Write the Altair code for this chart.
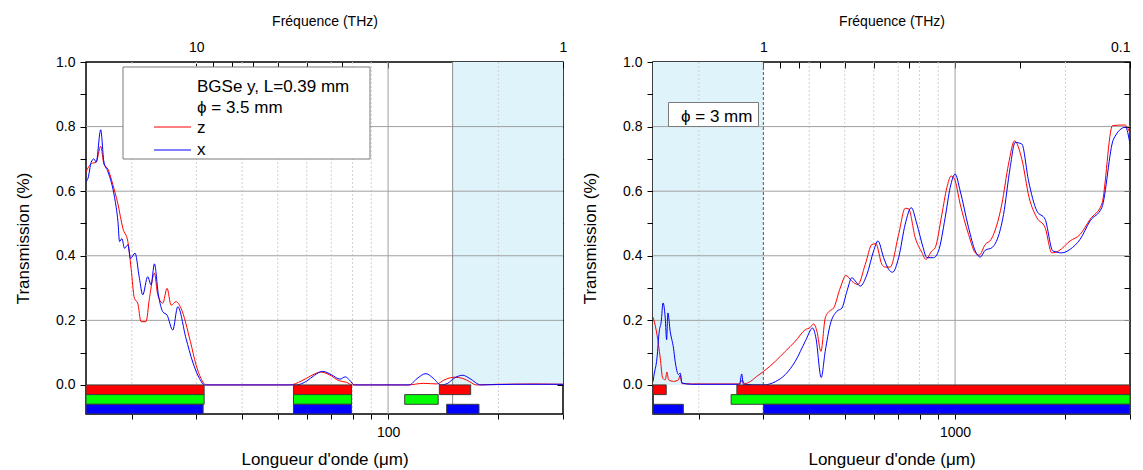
import altair as alt
import pandas as pd

FONT = "Liberation Sans"
PLOT_W, PLOT_H = 477, 352
Y_DOMAIN = [-0.09, 1.0]
THZ_UM = 300.0  # wavelength (um) = 300 / frequency (THz)
SHADE_COLOR = "#dff3fb"

# ---------------- left panel : BGSe y, L=0.39 mm, phi = 3.5 mm ----------------
left_z_wl = [15.0, 15.19, 15.5, 15.99, 16.45, 16.79, 17.22, 17.76, 18.33, 18.91, 19.51, 19.91,
             20.33, 20.76, 21.19, 21.87, 22.34, 23.05, 23.54, 24.29, 24.96, 25.6, 26.41, 27.25,
             28.9, 29.94, 30.89, 31.88, 40.0, 53.92, 58.0, 62.0, 65.61, 69.0, 73.63, 77.0, 80.02,
             100.0, 113.0, 125.0, 136.0, 142.0, 151.8, 160.0, 167.0, 173.9, 200.0, 250.0, 300.0]
left_z_T = [0.66, 0.672, 0.685, 0.69, 0.739, 0.683, 0.668, 0.62, 0.56, 0.485, 0.444, 0.361,
            0.268, 0.253, 0.196, 0.196, 0.268, 0.346, 0.279, 0.253, 0.299, 0.247, 0.258, 0.237,
            0.134, 0.062, 0.02, 0.0, 0.0, 0.0, 0.012, 0.03, 0.04, 0.032, 0.013, 0.008, 0.0,
            0.0, 0.0, 0.005, 0.003, 0.015, 0.024, 0.02, 0.01, 0.0, 0.002, 0.003, 0.002]
left_x_wl = [15.0, 15.19, 15.5, 15.76, 15.99, 16.45, 16.79, 17.22, 17.95, 18.33, 18.52, 18.79,
             19.11, 19.51, 19.84, 20.41, 20.98, 21.42, 22.1, 22.57, 23.05, 23.64, 24.29, 24.96,
             25.87, 26.69, 28.11, 29.32, 30.59, 31.56, 40.0, 56.2, 60.0, 63.0, 66.31, 70.0, 73.9,
             76.43, 78.5, 80.88, 100.0, 114.2, 120.0, 126.8, 133.0, 139.4, 145.4, 151.0, 159.9,
             167.0, 179.1, 220.0, 300.0]
left_x_T = [0.63, 0.64, 0.69, 0.70, 0.69, 0.79, 0.69, 0.66, 0.58, 0.506, 0.444, 0.453,
            0.423, 0.434, 0.392, 0.408, 0.33, 0.279, 0.335, 0.31, 0.375, 0.279, 0.227, 0.216,
            0.17, 0.242, 0.144, 0.071, 0.02, 0.0, 0.0, 0.0, 0.012, 0.03, 0.042, 0.032, 0.018,
            0.025, 0.015, 0.0, 0.0, 0.0, 0.02, 0.035, 0.02, 0.0, 0.005, 0.02, 0.03,
            0.02, 0.0, 0.002, 0.002]

left_bar_row = ["r", "r", "r", "g", "g", "g", "b", "b", "b"]
left_bar_start = [15.0, 55.2, 138.0, 15.0, 55.2, 111.0, 15.0, 55.2, 144.5]
left_bar_end = [31.5, 79.5, 168.0, 31.5, 79.5, 137.0, 31.3, 79.5, 177.0]

# ---------------- right panel : phi = 3 mm ----------------
right_z_wl = [150.0, 150.7, 153.8, 157.0, 159.4, 162.0, 163.7, 165.4, 170.6, 176.1, 177.9, 179.9,
              191.2, 230.0, 258.2, 262.4, 266.6, 272.9, 287.5, 300.6, 323.3, 344.2, 366.5, 390.3,
              402.7, 411.4, 420.0, 430.6, 442.4, 453.6, 466.3, 486.1, 503.8, 523.2, 543.3, 568.8,
              593.3, 608.4, 631.6, 644.9, 665.4, 701.5, 731.2, 747.0, 778.6, 811.9, 832.5, 864.4,
              882.5, 920.4, 949.7, 975.7, 996.8, 1032.5, 1088.5, 1135.0, 1163.8, 1208.4, 1254.8,
              1341.5, 1399.0, 1452.8, 1520.8, 1592.2, 1670.9, 1760.2, 1836.0, 1915.1, 2059.7,
              2193.3, 2335.2, 2513.1, 2688.0, 2903.4, 3000.0]
right_z_T = [0.21, 0.202, 0.156, 0.083, 0.021, 0.016, 0.04, 0.016, 0.011, 0.016, 0.031, 0.004,
             0.003, 0.003, 0.003, 0.015, 0.004, 0.007, 0.026, 0.042, 0.073, 0.104, 0.135, 0.171,
             0.178, 0.189, 0.166, 0.104, 0.207, 0.228, 0.238, 0.30, 0.339, 0.321, 0.311, 0.373,
             0.435, 0.437, 0.373, 0.365, 0.365, 0.466, 0.547, 0.545, 0.456, 0.41, 0.389, 0.415,
             0.425, 0.528, 0.611, 0.647, 0.637, 0.56, 0.466, 0.409, 0.402, 0.435, 0.451,
             0.56, 0.684, 0.756, 0.699, 0.58, 0.518, 0.487, 0.409, 0.415, 0.446,
             0.466, 0.513, 0.56, 0.803, 0.805, 0.78]
right_x_wl = [150.0, 150.7, 153.8, 156.0, 158.0, 159.7, 162.0, 163.4, 164.7, 167.1, 170.6, 172.4,
              176.1, 177.9, 179.9, 191.2, 258.2, 261.9, 264.5, 300.6, 323.3, 344.2, 366.5, 390.3,
              408.9, 417.4, 431.4, 442.4, 456.5, 476.1, 491.3, 507.0, 523.2, 534.1, 551.3, 574.9,
              599.6, 616.0, 638.5, 658.8, 675.6, 701.5, 731.2, 759.3, 786.9, 816.0, 837.7, 873.6,
              901.5, 939.7, 969.6, 1000.5, 1032.5, 1088.5, 1135.0, 1171.1, 1208.4, 1260.3, 1355.8,
              1413.2, 1458.2, 1520.8, 1586.3, 1670.9, 1760.2, 1847.5, 1955.2, 2059.7, 2193.3,
              2335.2, 2513.1, 2704.7, 2916.1, 3000.0]
right_x_T = [0.01, 0.026, 0.083, 0.166, 0.197, 0.254, 0.207, 0.14, 0.223, 0.166, 0.114, 0.073,
             0.032, 0.037, 0.006, 0.002, 0.002, 0.034, 0.002, 0.0, 0.01, 0.032, 0.073, 0.135,
             0.176, 0.145, 0.023, 0.104, 0.187, 0.228, 0.238, 0.29, 0.332, 0.322, 0.306, 0.342,
             0.415, 0.446, 0.394, 0.358, 0.349, 0.394, 0.498, 0.549, 0.498, 0.43, 0.394, 0.394,
             0.415, 0.518, 0.611, 0.653, 0.601, 0.487, 0.415, 0.396, 0.417, 0.425, 0.528,
             0.673, 0.751, 0.746, 0.632, 0.539, 0.513, 0.415, 0.409, 0.42, 0.451,
             0.508, 0.549, 0.761, 0.798, 0.746]

right_bar_row = ["r", "r", "g", "b", "b"]
right_bar_start = [150.0, 254.0, 245.0, 150.0, 300.0]
right_bar_end = [163.0, 3000.0, 3000.0, 181.5, 3000.0]

# ---------------- shared categories / ticks ----------------
series_names = ["z", "x"]
series_colors = ["#ff0000", "#0000ff"]
bar_rows = ["r", "g", "b"]
bar_colors = ["#ff0000", "#00ff00", "#0000ff"]
bar_row_top = [0.0, -0.03, -0.06]
bar_row_bottom = [-0.03, -0.06, -0.09]

shade_range = [150.0, 300.0]
shade_T = [0.0, 1.0]

y_tick_values = [0.0, 0.1, 0.2, 0.3, 0.4, 0.5, 0.6, 0.7, 0.8, 0.9, 1.0]
hgrid_values = [0.2, 0.4, 0.6, 0.8]

left_domain = [15.0, 300.0]
left_bottom_ticks = [20, 30, 40, 50, 60, 70, 80, 90, 100, 200, 300]
left_bottom_labels = [100]
left_minor_grid = [20, 30, 40, 50, 60, 70, 80, 90, 200]
left_major_grid = [100]
left_top_major = [10, 1]
left_top_minor = [9, 8, 7, 6, 5, 4, 3, 2]

right_domain = [150.0, 3000.0]
right_bottom_ticks = [200, 300, 400, 500, 600, 700, 800, 900, 1000, 2000, 3000]
right_bottom_labels = [1000]
right_minor_grid = [200, 400, 500, 600, 700, 800, 900, 2000]
right_major_grid = [1000]
right_top_major = [1, 0.1]
right_top_minor = [0.9, 0.8, 0.7, 0.6, 0.5, 0.4, 0.3, 0.2]

legend_title_lines = ["BGSe y, L=0.39 mm", "\u03d5 = 3.5 mm"]
right_note = "\u03d5 = 3 mm"


def one(text):
    return pd.DataFrame({"t": [text]})


def build_panel(z_wl, z_T, x_wl, x_T, b_row, b_start, b_end, xdom, bottom_ticks,
                bottom_labels, minor_grid, major_grid, edge_mark, top_major, top_minor,
                top_flush, notes):
    xs = alt.Scale(type="log", domain=xdom, nice=False)
    ys = alt.Scale(domain=Y_DOMAIN, nice=False, zero=False)

    curves = pd.concat([
        pd.DataFrame({"wl": z_wl, "T": z_T, "series": "z", "i": list(range(len(z_wl)))}),
        pd.DataFrame({"wl": x_wl, "T": x_T, "series": "x", "i": list(range(len(x_wl)))}),
    ], ignore_index=True)
    top_map = dict(zip(bar_rows, bar_row_top))
    bot_map = dict(zip(bar_rows, bar_row_bottom))
    bars = pd.DataFrame({"row": b_row, "a": b_start, "b": b_end})
    bars["top"] = bars["row"].map(top_map)
    bars["bot"] = bars["row"].map(bot_map)
    shade = pd.DataFrame({"x0": [shade_range[0]], "x1": [shade_range[1]],
                          "y0": [shade_T[0]], "y1": [shade_T[1]]})

    lab = ",".join(str(v) for v in bottom_labels)
    bottom_axis = alt.Axis(orient="bottom", values=bottom_ticks,
                           labelExpr=f"indexof([{lab}], datum.value) >= 0 ? format(datum.value, 'd') : ''",
                           tickSize=5, labelPadding=6, labelOverlap=False, labelFlush=False,
                           title="Longueur d'onde (\u03bcm)", titlePadding=12)
    left_axis = alt.Axis(orient="left", values=y_tick_values,
                         labelExpr="round(datum.value * 10) % 2 == 0 ? format(datum.value, '.1f') : ''",
                         tickSize=6, labelPadding=5, labelOverlap=False,
                         title="Transmission (%)", titlePadding=23)
    top_vals = sorted(THZ_UM / f for f in top_major + top_minor)
    maj = ",".join(repr(float(f)) for f in top_major)
    top_axis = alt.Axis(orient="top", values=top_vals,
                        labelExpr=(f"indexof([{maj}], round({THZ_UM} / datum.value * 1000) / 1000) >= 0"
                                   f" ? format({THZ_UM} / datum.value, '~g') : ''"),
                        tickSize=6, offset=-6, labelPadding=8, labelOverlap=False,
                        labelFlush=top_flush, title="Fr\u00e9quence (THz)", titleFontSize=14,
                        titlePadding=12)
    right_axis = alt.Axis(orient="right", values=y_tick_values, labels=False, tickSize=6,
                          offset=-6, title=None)

    layers = [
        alt.Chart(shade).mark_rect(color=SHADE_COLOR).encode(
            x=alt.X("x0:Q", scale=xs, axis=bottom_axis), x2="x1:Q",
            y=alt.Y("y0:Q", scale=ys, axis=left_axis), y2="y1:Q"),
        alt.Chart(pd.DataFrame({"v": minor_grid})).mark_rule(
            color="#d2d2d2", strokeDash=[2, 2], strokeWidth=1).encode(
            x=alt.X("v:Q", scale=xs, axis=None)),
        alt.Chart(pd.DataFrame({"v": major_grid})).mark_rule(color="#a0a0a0", strokeWidth=1).encode(
            x=alt.X("v:Q", scale=xs, axis=None)),
        alt.Chart(pd.DataFrame({"v": hgrid_values})).mark_rule(color="#a0a0a0", strokeWidth=1).encode(
            y=alt.Y("v:Q", scale=ys, axis=None)),
        alt.Chart(pd.DataFrame({"v": [shade_range[1] if edge_mark == "dash" else shade_range[0]]}))
        .mark_rule(**({"color": "#555555", "strokeDash": [3, 2]} if edge_mark == "dash"
                      else {"color": "#8c8c8c"}), strokeWidth=1)
        .encode(x=alt.X("v:Q", scale=xs, axis=None)),
        alt.Chart(curves).mark_line(strokeWidth=1, interpolate="monotone", clip=True).encode(
            x=alt.X("wl:Q", scale=xs, axis=None),
            y=alt.Y("T:Q", scale=ys, axis=None),
            color=alt.Color("series:N", scale=alt.Scale(domain=series_names, range=series_colors),
                            legend=None),
            order="i:Q"),
        alt.Chart(bars).mark_rect(stroke="#3c3c3c", strokeWidth=1).encode(
            x=alt.X("a:Q", scale=xs, axis=None), x2="b:Q",
            y=alt.Y("top:Q", scale=ys, axis=None), y2="bot:Q",
            fill=alt.Fill("row:N", scale=alt.Scale(domain=bar_rows, range=bar_colors), legend=None)),
    ]
    layers += notes
    layers += [
        alt.Chart(pd.DataFrame({"v": top_vals})).mark_rule(strokeOpacity=0).encode(
            x=alt.X("v:Q", scale=xs, axis=top_axis)),
        alt.Chart(pd.DataFrame({"v": y_tick_values})).mark_rule(strokeOpacity=0).encode(
            y=alt.Y("v:Q", scale=ys, axis=right_axis)),
    ]
    return alt.layer(*layers).properties(width=PLOT_W, height=PLOT_H).resolve_axis(
        x="independent", y="independent")


def txt(text, x, y, size=17):
    return alt.Chart(one(text)).mark_text(align="left", baseline="alphabetic", font=FONT,
                                          fontSize=size, color="black").encode(
        x=alt.value(x), y=alt.value(y), text="t:N")


def box(x0, x1, y0, y1):
    return alt.Chart(one("box")).mark_rect(fill="white", stroke="#7a7a7a", strokeWidth=1).encode(
        x=alt.value(x0), x2=alt.value(x1), y=alt.value(y0), y2=alt.value(y1))


def sample(color, x0, x1, y):
    return alt.Chart(one("line")).mark_rule(color=color, strokeWidth=1).encode(
        x=alt.value(x0), x2=alt.value(x1), y=alt.value(y))


left_notes = [
    box(37, 284, 5, 97),
    txt(legend_title_lines[0], 111, 29.5),
    txt(legend_title_lines[1], 111, 51),
    sample(series_colors[0], 68, 105, 65),
    txt(series_names[0], 111, 71),
    sample(series_colors[1], 68, 105, 88),
    txt(series_names[1], 111, 93),
]
right_notes = [
    box(15.5, 105.5, 40.5, 64.5),
    txt(right_note, 28, 60),
]

left = build_panel(left_z_wl, left_z_T, left_x_wl, left_x_T, left_bar_row, left_bar_start,
                   left_bar_end, left_domain, left_bottom_ticks, left_bottom_labels,
                   left_minor_grid, left_major_grid, "solid", left_top_major, left_top_minor,
                   False, left_notes)
right = build_panel(right_z_wl, right_z_T, right_x_wl, right_x_T, right_bar_row, right_bar_start,
                    right_bar_end, right_domain, right_bottom_ticks, right_bottom_labels,
                    right_minor_grid, right_major_grid, "dash", right_top_major, right_top_minor,
                    True, right_notes)

chart = alt.hconcat(left, right, spacing=90, bounds="flush").properties(
    padding={"left": 5, "top": 5, "right": 0, "bottom": 0},
    background="white",
).configure_view(stroke="black", strokeWidth=1.5).configure_axis(
    labelFont=FONT, titleFont=FONT, labelFontSize=14, titleFontSize=17,
    labelColor="black", titleColor="black", tickColor="black", tickWidth=1,
    titleFontWeight="normal", grid=False, domain=False,
)

chart.save("out.html", embed_options={"renderer": "svg", "actions": False})
